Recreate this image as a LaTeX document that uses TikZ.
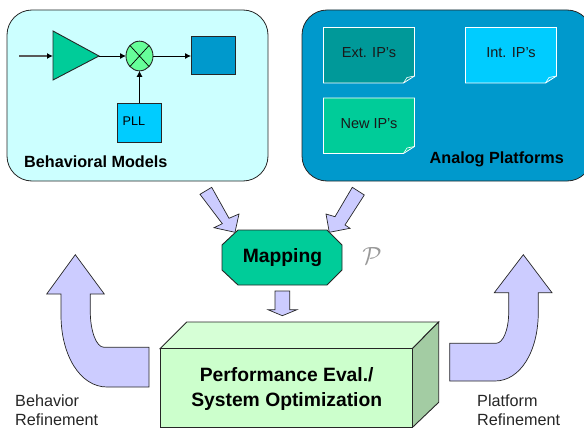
\documentclass[tikz,border=0pt]{standalone}
\usepackage{fontspec}
\setmainfont{Liberation Sans}
\usetikzlibrary{arrows.meta}
\definecolor{panelA}{HTML}{CCFFFF}
\definecolor{panelB}{HTML}{0099CC}
\definecolor{sea}{HTML}{00CC99}
\definecolor{mint}{HTML}{66FF99}
\definecolor{sky}{HTML}{00CCFF}
\definecolor{teal}{HTML}{009999}
\definecolor{lav}{HTML}{CCCCFF}
\definecolor{cubeF}{HTML}{CCFFCC}
\definecolor{cubeT}{HTML}{D6FFD6}
\definecolor{cubeS}{HTML}{A3CCA3}
\tikzset{
  panel/.style={draw=black!85,line width=0.8pt,rounded corners=25pt,inner sep=0pt,outer sep=0pt},
  blockbox/.style={draw=black!85,line width=0.9pt,inner sep=0pt,outer sep=0pt},
  wire/.style={draw=black,line width=0.8pt,-{Latex[length=6pt,width=6pt,black]}},
  bigarrow/.style={draw=black!85,fill=lav,line width=0.7pt,line join=miter},
  note/.style={draw=white,line width=0.8pt,line join=miter},
  lab/.style={inner sep=0pt,font=\fontsize{14.5}{17}\selectfont,text=black!90},
  blab/.style={inner sep=0pt,font=\fontsize{16.2}{18.5}\selectfont\bfseries},
  hlab/.style={inner sep=0pt,font=\fontsize{19.3}{25}\selectfont\bfseries,align=center},
  side/.style={inner sep=0pt,font=\fontsize{16.2}{18.5}\selectfont,align=left,text=black!85}
}
\newcommand{\noteshape}[3]{%
  \fill[#3] (#1,#2) -- ++(91,0) -- ++(0,48.5) -- ++(-11,7) -- ++(-80,0) -- cycle;
  \draw[note] (#1,#2) -- ++(91,0) -- ++(0,48.5) -- ++(-11,7) -- ++(-80,0) -- cycle;
  \draw[note,line width=0.6pt] (#1+80,#2+55.5) -- (#1+83.5,#2+50) -- (#1+91,#2+48.5);
}
\begin{document}
\begin{tikzpicture}[x=1pt,y=-1pt]
\useasboundingbox (0,0) rectangle (584,428);
\clip (0,0) rectangle (584,428);
% panels
\node[panel,fill=panelA,minimum width=261pt,minimum height=171pt] (bm) at (137.5,95.5) {};
\node[panel,fill=panelB,minimum width=290pt,minimum height=171pt] (ap) at (447,95.5) {};
\node[blab,anchor=west] (bmt) at (24,162) {Behavioral Models};
\node[blab,anchor=east] (apt) at (564,159) {Analog Platforms};
% amplifier chain
\coordinate (in) at (19,56);
\coordinate (ampin) at (53,56);
\coordinate (ampout) at (99,56);
\draw[blockbox,fill=sea] (53,31) -- (ampout) -- (53,80) -- cycle;
\node[blockbox,fill=mint,shape=circle,minimum size=27pt,xscale=1,yscale=1.1] (mix) at (139.5,56) {};
\draw[line width=0.7pt] (mix.45) -- (mix.225) (mix.135) -- (mix.315);
\node[blockbox,fill=panelB,minimum width=44pt,minimum height=38pt] (out) at (213,55) {};
\node[blockbox,fill=sky,minimum width=44pt,minimum height=39pt] (pll) at (139.5,122.5) {};
\node[inner sep=0pt,anchor=west,font=\fontsize{12.6}{14}\selectfont] (pllt) at (122.5,121.5) {PLL};
\draw[wire,draw=black!65,line width=1.2pt] (in) -- (ampin);
\draw[wire] (ampout) -- (mix.west);
\draw[wire] (mix.east) -- (out.west |- mix.east);
\draw[wire] (pll.north) -- (mix.south);
% IP notes
\noteshape{323.5}{27.5}{teal}
\noteshape{465.5}{27.5}{sky}
\noteshape{323.5}{98}{sea}
\node[lab] (ext) at (369,52.7) {Ext. IP's};
\node[lab] (int) at (511,52.7) {Int. IP's};
\node[lab] (new) at (369,123.7) {New IP's};
% mapping
\draw[blockbox,fill=sea] (238,230) -- (327,230) -- (342,245) -- (342,270) -- (327,285) -- (238,285) -- (222,270) -- (222,245) -- cycle;
\node[hlab] (map) at (282.5,257.5) {Mapping};
\node[inner sep=0pt,text=black!40,font=\fontsize{25}{25}\selectfont] (pp) at (372,255.7) {$\mathcal{P}$};
% small arrows
\draw[bigarrow] (200,194.3) -- (211.7,187.3) -- (229,218.3) -- (239,214) -- (235,232.3) -- (214,227.7) -- (222.3,223.7) -- cycle;
\draw[bigarrow] (352.3,187.3) -- (364.3,195) -- (345,225) -- (350,228.3) -- (329.3,232.3) -- (326,214) -- (335,216.7) -- cycle;
\draw[bigarrow] (275,291) -- (289.7,291) -- (289.7,309.7) -- (297,309.7) -- (282.3,315.7) -- (268,309.7) -- (275,309.7) -- cycle;
% cube
\draw[blockbox,fill=cubeT] (160,348.7) -- (186.7,322) -- (438.7,322) -- (412.3,348.7) -- cycle;
\draw[blockbox,fill=cubeS] (412.3,348.7) -- (438.7,322) -- (438.7,402.3) -- (412.3,427.5) -- cycle;
\draw[blockbox,draw=black!85,fill=cubeF] (160,348.7) rectangle (412.3,427.5);
\node[hlab] (perf) at (286.7,389) {Performance Eval./\\System Optimization};
% big arrows
\draw[bigarrow] (75.3,254.7) -- (104.3,294) -- (90.3,294) -- (90.3,312) .. controls (90.3,330) and (96,347.3) .. (104,347.3) -- (149,347.3) -- (149,387) -- (107,387) .. controls (80,387) and (61,355) .. (61,315) -- (61,294) -- (46.7,294) -- cycle;
\draw[bigarrow] (523.3,254.7) -- (552,292.7) -- (538.3,292.7) -- (538.3,312) .. controls (538.3,352) and (520,381) .. (495,381) -- (449.7,381) -- (449.7,343.3) -- (496,343.3) .. controls (503,343.3) and (508.7,330) .. (508.7,312) -- (508.7,292.7) -- (494.3,292.7) -- cycle;
\node[side,anchor=west] (bref) at (15,410) {Behavior\\Refinement};
\node[side,anchor=west] (pref) at (477,410) {Platform\\Refinement};
\end{tikzpicture}
\end{document}
